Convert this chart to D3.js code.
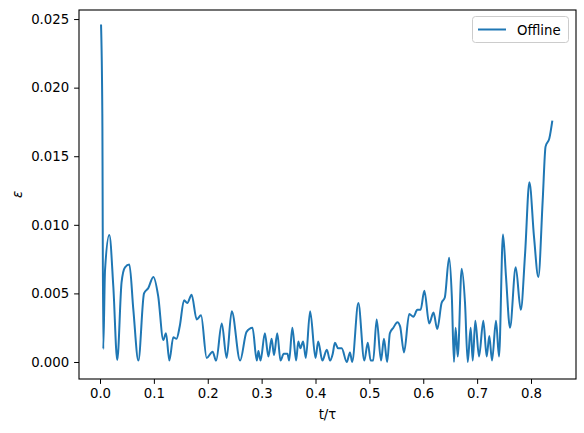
<!DOCTYPE html>
<html><head><meta charset="utf-8">
<script src="https://cdn.jsdelivr.net/npm/d3@7"></script>
<style>body{margin:0;background:#fff}text{font-family:"DejaVu Sans",sans-serif}</style>
</head><body>
<svg id="c" width="584" height="433"></svg>
<script>
const tVals=[0.0019,0.0043,0.006,0.0093,0.0173,0.0247,0.032,0.040,0.0464,0.0545,0.0619,0.0712,0.0817,0.0897,0.099,0.108,0.1175,0.1225,0.1287,0.136,0.142,0.148,0.156,0.162,0.170,0.1795,0.1875,0.198,0.209,0.2155,0.226,0.235,0.2445,0.26,0.272,0.283,0.291,0.294,0.298,0.306,0.3125,0.3185,0.323,0.329,0.335,0.341,0.348,0.351,0.357,0.364,0.368,0.372,0.377,0.382,0.390,0.400,0.405,0.4127,0.421,0.427,0.432,0.436,0.442,0.4486,0.458,0.464,0.468,0.4795,0.4906,0.497,0.5024,0.507,0.5135,0.5216,0.527,0.533,0.538,0.5445,0.552,0.557,0.5643,0.574,0.5816,0.589,0.595,0.602,0.611,0.619,0.626,0.634,0.640,0.648,0.653,0.657,0.660,0.664,0.6713,0.6775,0.6825,0.688,0.6918,0.6966,0.7035,0.7115,0.7177,0.7226,0.7276,0.735,0.7406,0.748,0.7536,0.761,0.7716,0.781,0.789,0.797,0.8056,0.8136,0.8217,0.827,0.834,0.8396];
const epsVals=[0.0246,0.0181,0.00095,0.0067,0.00925,0.0055,0.00015,0.0058,0.0069,0.0071,0.0038,0.0001,0.0050,0.0054,0.0062,0.0048,0.0016,0.0021,0.0001,0.0018,0.0017,0.0026,0.0045,0.0043,0.0049,0.0031,0.0034,0.0003,0.00075,0.0001,0.0028,0.0003,0.0037,0.0001,0.0022,0.0025,0.0001,0.0008,0.0001,0.0021,0.0004,0.0017,0.0005,0.0021,0.0001,0.0006,0.0006,0.0001,0.0025,0.0001,0.0015,0.0010,0.0015,0.0003,0.0037,0.0003,0.0015,0.0001,0.0009,0.0001,0.0006,0.0014,0.0010,0.0010,0.0000,0.0007,0.0000,0.0043,0.0001,0.0014,0.0001,0.0001,0.0031,0.0001,0.0017,0.0000,0.0021,0.0025,0.0029,0.0026,0.0007,0.0035,0.0033,0.0038,0.0038,0.0052,0.0028,0.0036,0.0024,0.0043,0.0047,0.0076,0.0048,0.0000,0.0025,0.0004,0.0068,0.0043,0.0000,0.0025,0.0001,0.0030,0.0004,0.0030,0.0004,0.0019,0.0001,0.0030,0.0004,0.0093,0.0062,0.0025,0.0069,0.0038,0.0079,0.0131,0.0091,0.0062,0.0118,0.0157,0.0163,0.0176];
const xTicks=[0,0.1,0.2,0.3,0.4,0.5,0.6,0.7,0.8];
const yTicks=[0,0.005,0.01,0.015,0.02,0.025];
const L=79,R=576,T=10,B=379;
const svg=d3.select("#c");
const x=d3.scaleLinear().domain([-0.039,0.8835]).range([L,R]);
const y=d3.scaleLinear().domain([-0.00124,0.02566]).range([B,T]);
const data=tVals.map((t,i)=>[t,epsVals[i]]);
svg.append("path").datum(data).attr("fill","none").attr("stroke","#1f77b4").attr("stroke-width",2)
 .attr("d",d3.line().x(d=>x(d[0])).y(d=>y(d[1])).curve(d3.curveMonotoneX));
const gx=svg.append("g").attr("transform",`translate(0,${B})`).call(d3.axisBottom(x).tickValues(xTicks).tickFormat(d3.format(".1f")).tickSize(4.9).tickPadding(4.9));
const gy=svg.append("g").attr("transform",`translate(${L},0)`).call(d3.axisLeft(y).tickValues(yTicks).tickFormat(d3.format(".3f")).tickSize(4.9).tickPadding(4.9));
[gx,gy].forEach(g=>{g.select(".domain").remove();g.selectAll("text").attr("font-size",13.3).attr("fill","#000");g.selectAll("line").attr("stroke","#000");});
svg.append("rect").attr("x",L).attr("y",T).attr("width",R-L).attr("height",B-T).attr("fill","none").attr("stroke","#000").attr("stroke-width",1.1);
svg.append("text").attr("x",(L+R)/2).attr("y",419).attr("text-anchor","middle").attr("font-size",13.3).text("t/τ");
svg.append("text").attr("transform",`translate(22,${(T+B)/2}) rotate(-90)`).attr("text-anchor","middle").attr("font-size",13.3).attr("font-style","italic").text("ε");
const lg=svg.append("g");
lg.append("rect").attr("x",472.5).attr("y",16.5).attr("width",96).attr("height",26).attr("rx",3).attr("fill","#fff").attr("stroke","#ccc");
lg.append("line").attr("x1",478).attr("x2",506).attr("y1",29.5).attr("y2",29.5).attr("stroke","#1f77b4").attr("stroke-width",2);
lg.append("text").attr("x",517).attr("y",34.5).attr("font-size",13.3).text("Offline");
</script></body></html>
